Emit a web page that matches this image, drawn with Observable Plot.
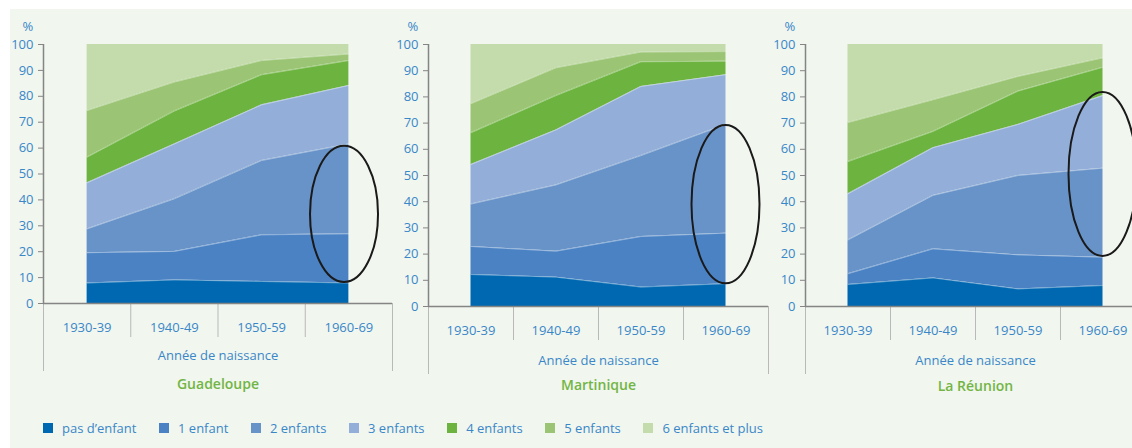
<!DOCTYPE html>
<html><head><meta charset="utf-8">
<script src="https://cdn.jsdelivr.net/npm/d3@7"></script>
<script src="https://cdn.jsdelivr.net/npm/@observablehq/plot@0.6"></script>
<style>
html,body{margin:0;padding:0;}
body{background:#fff;width:1132px;height:448px;overflow:hidden;position:relative;font-family:"Open Sans",sans-serif;}
#panel{position:absolute;left:10px;top:9px;right:0;bottom:0;background:#f1f6ef;}
.chart{position:absolute;top:0;}
.chart svg{overflow:visible;max-width:none !important;display:block;}
#legend{position:absolute;left:43px;top:418px;width:720px;display:flex;justify-content:space-between;font-size:13px;color:#3a87c8;line-height:20px;white-space:nowrap;}
.item{display:flex;align-items:center;}
.sw{width:10px;height:10px;margin-right:9px;}
</style></head><body>
<div id="panel"></div>
<div id="c0" class="chart"></div>
<div id="c1" class="chart"></div>
<div id="c2" class="chart"></div>
<div id="legend"></div>
<script>
// ---- data ----
const periods = ["1930-39", "1940-49", "1950-59", "1960-69"];
const categories = ["pas d’enfant", "1 enfant", "2 enfants", "3 enfants", "4 enfants", "5 enfants", "6 enfants et plus"];
const colors = ["#0067b1", "#4a82c4", "#6893c9", "#93afd9", "#6db33f", "#9bc574", "#c4dcab"];
const regions = ["Guadeloupe", "Martinique", "La Réunion"];
// % of women by number of children, per category (rows) and period (columns)
const guadeloupe = [
  [7.9, 9.1, 8.5, 7.9],
  [11.7, 11.0, 18.0, 19.0],
  [9.2, 20.3, 28.7, 34.7],
  [17.8, 21.2, 21.5, 22.6],
  [9.9, 12.7, 11.6, 9.6],
  [18.0, 11.2, 5.5, 2.5],
  [25.5, 14.5, 6.2, 3.7]
];
const martinique = [
  [12.2, 11.2, 7.4, 8.7],
  [10.7, 9.9, 19.3, 19.3],
  [16.2, 25.3, 30.9, 41.5],
  [15.1, 21.0, 26.4, 19.0],
  [12.1, 13.1, 9.4, 5.1],
  [11.1, 10.6, 3.7, 3.7],
  [22.6, 8.9, 2.9, 2.7]
];
const reunion = [
  [8.4, 10.9, 6.7, 8.0],
  [4.1, 11.1, 13.0, 10.8],
  [12.9, 20.4, 30.3, 34.0],
  [17.6, 18.2, 19.5, 27.7],
  [12.3, 6.2, 12.7, 10.8],
  [14.9, 12.1, 5.6, 3.6],
  [29.8, 21.1, 12.2, 5.1]
];
const yTicks = [0, 10, 20, 30, 40, 50, 60, 70, 80, 90, 100];
// highlighted zone (ellipse) per region: period position, centre %, half-height %
const highlightPeriod = [3.45, 3.5, 3.5];
const highlightCenter = [34.4, 38.9, 50.4];
const highlightHalf = [26.3, 30.2, 31.3];

// ---- layout ----
const blue = "#3a87c8";
const green = "#72b544";
const layouts = [
  {left: 3, frameW: 349, bottom: 303, dyAx: 56, dyName: 85},
  {left: 388, frameW: 340, bottom: 306, dyAx: 58, dyName: 83},
  {left: 765, frameW: 340, bottom: 306, dyAx: 58, dyName: 84}
];
const datasets = [guadeloupe, martinique, reunion];

datasets.forEach((values, r) => {
  const L = layouts[r];
  const rows = [];
  categories.forEach((c, ci) => periods.forEach((p, pi) => rows.push({cat: c, pos: pi + 0.5, value: values[ci][pi]})));
  const mL = 40, mR = 10, mT = 44, mB = 100;
  const W = mL + L.frameW + mR, H = L.bottom + mB;
  const plot = Plot.plot({
    width: W,
    height: H,
    marginLeft: mL, marginRight: mR, marginTop: mT, marginBottom: mB,
    style: {fontFamily: "Open Sans", fontSize: "13px", background: "transparent", overflow: "visible", maxWidth: "none"},
    x: {domain: [0, 4], axis: null},
    y: {domain: [0, 100], axis: null},
    color: {domain: categories, range: colors},
    marks: [
      Plot.areaY(rows, {x: "pos", y: "value", fill: "cat", order: categories}),
      Plot.lineY(rows.filter(d => d.cat !== categories[categories.length - 1]),
        Plot.stackY2({x: "pos", y: "value", z: "cat", order: categories, stroke: "#ffffff", strokeOpacity: 0.45, strokeWidth: 0.9})),
      Plot.axisX({ticks: [1, 2, 3], tickSize: 34, tickFormat: () => "", stroke: "#b9b9b9", strokeWidth: 1, label: null}),
      Plot.axisX({ticks: [0, 4], tickSize: 68, tickFormat: () => "", stroke: "#b9b9b9", strokeWidth: 1, label: null}),
      Plot.axisX({ticks: periods.map((p, i) => i + 0.5), tickSize: 0, tickPadding: 19, tickFormat: v => periods[Math.round(v - 0.5)], fill: blue, fontSize: 13, label: null}),
      Plot.ruleY([0], {stroke: "#858585", strokeWidth: 1.5}),
      Plot.ruleX([0], {y1: 0, y2: 100, stroke: "#858585", strokeWidth: 1.5}),
      Plot.axisY({ticks: yTicks, tickSize: 5, tickFormat: () => "", stroke: "#858585", label: null}),
      Plot.axisY({ticks: yTicks, tickSize: 0, tickPadding: 10, fill: blue, fontSize: 13, label: null}),
      Plot.text(["%"], {frameAnchor: "top-left", lineAnchor: "middle", dx: -21, dy: -18, fill: blue, fontSize: 13}),
      Plot.text(["Année de naissance"], {x: 2, frameAnchor: "bottom", lineAnchor: "bottom", dy: L.dyAx, fill: blue, fontSize: 13}),
      Plot.text([regions[r]], {x: 2, frameAnchor: "bottom", lineAnchor: "bottom", dy: L.dyName, fill: green, fontSize: 14, fontWeight: 600})
    ]
  });
  const sx = plot.scale("x"), sy = plot.scale("y");
  const cy = sy.apply(highlightCenter[r]);
  const ry = Math.abs(sy.apply(highlightCenter[r] + highlightHalf[r]) - cy);
  d3.select(plot).append("ellipse")
    .attr("cx", sx.apply(highlightPeriod[r])).attr("cy", cy)
    .attr("rx", 34).attr("ry", ry)
    .attr("fill", "none").attr("stroke", "#1a1a1a").attr("stroke-width", 2);
  const holder = document.getElementById("c" + r);
  holder.style.left = L.left + "px";
  holder.style.width = W + "px";
  holder.style.height = H + "px";
  plot.setAttribute("width", W);
  plot.setAttribute("height", H);
  plot.style.width = W + "px";
  plot.style.height = H + "px";
  holder.appendChild(plot);
});

// legend
const lg = d3.select("#legend");
categories.forEach((c, i) => {
  const it = lg.append("div").attr("class", "item");
  it.append("div").attr("class", "sw").style("background", colors[i]);
  it.append("span").text(c);
});
</script>
</body></html>
